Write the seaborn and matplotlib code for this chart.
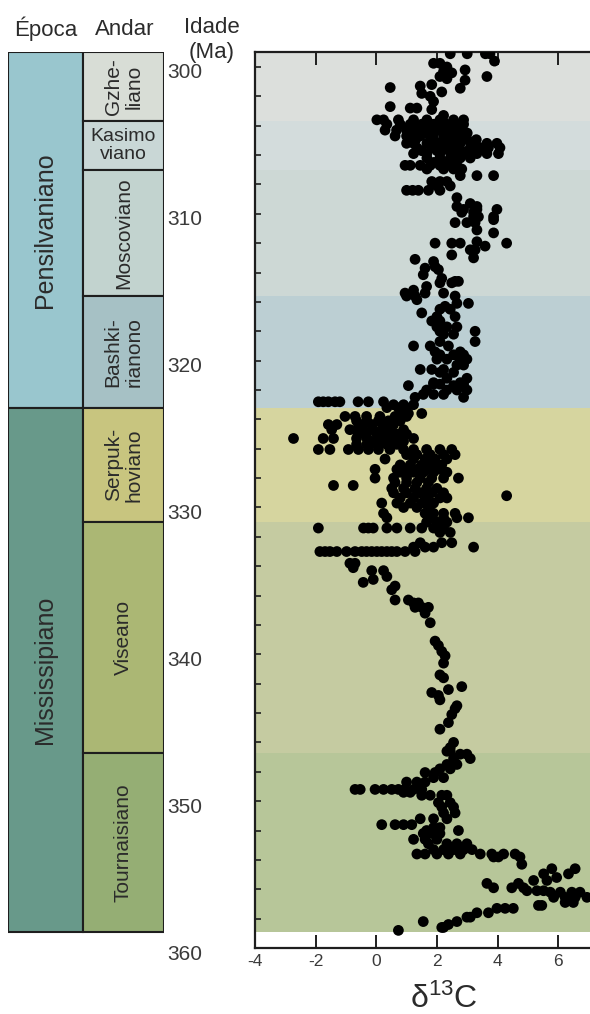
import numpy as np
import pandas as pd
import matplotlib
matplotlib.use("Agg")
import matplotlib.pyplot as plt
import matplotlib.transforms as mtransforms
from matplotlib.ticker import MultipleLocator, NullFormatter
import seaborn as sns

sns.set_theme(style="ticks")
plt.rcParams["font.family"] = ["Liberation Sans", "DejaVu Sans"]
plt.rcParams["mathtext.fontset"] = "custom"
plt.rcParams["mathtext.rm"] = "Liberation Sans"
plt.rcParams["mathtext.it"] = "Liberation Sans:italic"

# ---- Carboniferous time scale (Ma) ----
epochs = ["Pensilvaniano", "Mississipiano"]
epoch_top = [299.0, 323.2]
epoch_base = [323.2, 358.9]
epoch_colors = ["#99c6ce", "#68998a"]

stages = ["Gzhe-\nliano", "Kasimo\nviano", "Moscoviano", "Bashki-\nrianono",
          "Serpuk-\nhoviano", "Viseano", "Tournaisiano"]
stage_top = [299.0, 303.7, 307.0, 315.6, 323.2, 331.0, 346.7]
stage_base = [303.7, 307.0, 315.6, 323.2, 331.0, 346.7, 358.9]
stage_colors = ["#d8ddd6", "#c9d7d6", "#c2d3cf", "#a6c1c5",
                "#c8c57f", "#abb774", "#95ae74"]
band_colors = ["#dcdfdc", "#d3dcdc", "#cdd8d5", "#bccfd3",
               "#d6d59f", "#c5cba1", "#b7c699"]
stage_rotation = [90, 0, 90, 90, 90, 90, 90]

age_ticks = [300, 310, 320, 330, 340, 350, 360]
d13c_ticks = [-4, -2, 0, 2, 4, 6]

# ---- delta13C measurements: (age in Ma, [d13C values at that age]) ----
gzhelian = [
    (299.1, [2.44, 3.0, 3.6, 3.75]), (299.6, [3.9]), (299.75, [1.89, 2.1]),
    (300.0, [2.33]), (300.2, [2.93]), (300.3, [2.22]), (300.4, [2.49]),
    (300.65, [2.1, 3.65]), (300.8, [2.33]), (300.9, [2.93]), (301.2, [1.83]),
    (301.3, [1.45]), (301.4, [0.46]), (301.45, [2.77]), (301.7, [2.16]),
    (301.8, [1.5]), (302.0, [1.78]), (302.35, [1.89]), (302.7, [0.46]),
    (302.8, [1.12, 1.34]), (302.9, [1.83]), (303.3, [2.22]),
    (303.6, [0.02, 0.24, 0.73, 1.23, 1.67, 2.1, 2.55, 2.88]),
]
kasimovian = [
    (303.9, [0.35, 0.79, 1.12, 1.5, 1.89, 2.33, 2.66, 2.88]),
    (304.1, [1.3, 1.7, 2.2, 2.5, 2.8]),
    (304.3, [0.29, 0.67, 1.0, 1.34, 1.72, 2.0, 2.33, 2.71]),
    (304.5, [1.2, 1.6, 1.9, 2.4, 2.6, 3.0]),
    (304.7, [0.62, 1.0, 1.45, 1.78, 2.22, 2.55, 2.88]),
    (304.95, [1.3, 1.9, 2.3, 2.7, 3.0, 3.3]),
    (305.2, [1.0, 1.23, 1.67, 2.1, 2.44, 2.77, 3.21, 3.65, 3.98]),
    (305.5, [1.34, 1.83, 2.22, 2.66, 3.1, 3.43, 3.7, 4.08]),
    (305.7, [1.5, 2.0, 2.4, 2.8, 3.2]),
    (305.9, [1.23, 1.67, 2.1, 2.55, 2.99, 3.32, 3.65, 4.03]),
    (306.2, [1.67, 2.1, 2.44, 2.77, 3.1]),
    (306.5, [1.9, 2.3, 2.6]),
    (306.7, [0.95, 1.12, 1.45, 1.78, 2.1, 2.33, 2.66]),
    (306.95, [1.67, 2.22, 2.55, 2.82]),
]
moscovian = [
    (307.4, [2.77, 3.32, 3.87]), (307.8, [1.83, 2.1, 2.33]), (308.1, [2.0, 2.44]),
    (308.4, [1.0, 1.2, 1.39, 1.72, 2.1]), (308.9, [2.66]), (309.3, [3.1]),
    (309.5, [2.66, 3.32]), (309.7, [2.88, 3.32, 3.98]), (309.9, [2.82, 3.21]),
    (310.2, [3.21, 3.37, 3.87]), (310.4, [3.87]), (310.6, [2.6, 2.99, 3.26]),
    (311.1, [3.32]), (311.3, [3.87]), (311.9, [3.32]),
    (312.0, [1.94, 2.49, 2.77, 4.3]), (312.2, [3.59]), (312.45, [3.1, 3.26]),
    (312.8, [2.49]), (313.0, [3.21]), (313.1, [1.28]), (313.25, [1.89]),
    (313.6, [1.94]), (313.7, [1.61]), (313.8, [2.05]), (314.15, [1.55]),
    (314.4, [2.16]), (314.6, [2.6, 2.71]), (314.7, [2.1, 2.49]),
    (314.95, [1.66]), (315.2, [1.23]), (315.4, [0.95, 1.61, 2.22]),
]
bashkirian = [
    (315.6, [1.0, 1.28, 2.6]), (315.85, [1.34]), (316.1, [2.66, 3.04]),
    (316.3, [2.27]), (316.5, [2.1, 2.44]), (316.75, [1.5]), (317.0, [2.0, 2.6]),
    (317.3, [1.83, 2.1]), (317.7, [2.0, 2.33, 2.66]), (318.0, [2.1, 3.26]),
    (318.2, [2.22, 2.55]), (318.7, [2.1, 3.26]), (319.0, [1.23, 1.78, 2.38]),
    (319.4, [1.94, 2.77]), (319.6, [2.1, 2.55, 2.88]),
    (319.9, [2.0, 2.33, 2.77, 2.99]), (320.3, [2.66, 2.88]),
    (320.6, [1.45, 1.83, 2.22]), (320.8, [2.1, 2.55]), (321.2, [2.33, 2.99]),
    (321.5, [1.89, 2.77]), (321.6, [1.89, 2.1, 2.88]), (321.7, [1.06, 2.55]),
    (322.0, [1.66, 2.33, 2.66, 2.99]), (322.3, [1.55, 1.89, 2.22]),
    (322.5, [1.28, 2.88]),
    (322.8, [-1.91, -1.75, -1.58, -1.36, -1.2, -0.6, -0.26, 0.24]),
    (323.0, [0.57, 0.9, 1.23]),
]
serpukhovian = [
    (323.2, [0.35, 0.73, 1.0]), (323.6, [0.79, 1.06, 1.5]),
    (323.8, [-1.03, -0.7, -0.32, 0.12, 0.62, 1.0]),
    (324.1, [-0.65, -0.31, 0.07, 0.4, 0.79]),
    (324.35, [-1.58, -1.3, -0.54, -0.15, 0.24, 0.57]),
    (324.7, [-1.47, -0.87, -0.65, -0.43, -0.1, 0.18, 0.45, 0.9]),
    (325.0, [-0.6, -0.32, 0.02, 0.35, 0.68, 1.0]),
    (325.3, [-2.73, -1.75, -1.41, -0.65, -0.31, 0.12, 0.45, 0.79, 1.23]),
    (325.5, [-0.15, 0.24, 0.62, 0.9]),
    (325.7, [-0.65, -0.31, 0.02, 0.35, 0.68]),
    (326.05, [-1.91, -1.53, -0.92, -0.59, -0.26, 0.07, 0.45, 0.9, 1.23, 1.66, 2.1, 2.49]),
    (326.4, [1.0, 1.34, 1.78, 2.22, 2.6]),
    (326.7, [0.29, 1.23, 1.61, 1.94, 2.33]),
    (327.1, [0.79, 1.12, 1.5, 1.83, 2.16]),
    (327.4, [-0.04, 0.68, 1.0, 1.34, 1.66, 2.1]),
    (327.6, [0.79, 1.23, 1.55, 1.89, 2.33]),
    (328.0, [-0.04, 0.57, 1.0, 1.45, 1.83, 2.22, 2.71]),
    (328.3, [0.62, 1.0, 1.34, 1.72]), (328.5, [-1.41, -0.76]),
    (328.7, [0.51, 0.9, 1.28, 1.66, 2.0]),
    (329.0, [0.57, 1.0, 1.45, 1.83, 2.22]), (329.2, [4.3]),
    (329.35, [0.79, 1.23, 1.66, 2.1, 2.33]),
    (329.7, [0.18, 0.68, 1.12, 1.5, 1.89]), (330.0, [0.9, 1.34, 1.72]),
    (330.4, [0.24, 1.61, 1.89, 2.22, 2.6]),
    (330.7, [0.35, 1.83, 2.22, 2.66, 3.04]),
]
visean = [
    (331.0, [1.66, 2.0, 2.33]),
    (331.4, [-1.91, -0.42, -0.26, -0.1, 0.35, 0.68, 1.12, 1.5, 1.89, 2.22]),
    (331.7, [2.1, 2.44]), (332.4, [1.45, 2.16, 2.49]),
    (332.7, [1.23, 1.61, 1.89, 3.21]),
    (333.0, [-1.86, -1.69, -1.53, -1.3, -0.98, -0.7, -0.48, -0.32, -0.15,
             0.02, 0.18, 0.35, 0.51, 0.68, 0.95, 1.28]),
    (333.8, [-0.87, -0.7]), (334.1, [-0.76]), (334.3, [-0.15, 0.24]),
    (334.7, [0.35]), (334.9, [-0.1]), (335.1, [-0.43]), (335.35, [0.62]),
    (335.6, [0.51]), (336.3, [0.62, 1.06]), (336.5, [1.23, 1.39]),
    (336.8, [1.28, 1.5, 1.72]), (337.2, [1.61]), (337.85, [1.78]),
    (339.1, [1.94]), (339.4, [2.05]), (339.8, [2.16]), (340.1, [2.27]),
    (340.6, [2.22]), (341.4, [2.1]), (341.6, [2.22]), (342.2, [2.82]),
    (342.4, [2.38]), (342.6, [1.83]), (342.8, [2.05]), (343.1, [2.1]),
    (343.5, [2.66]), (343.7, [2.6]), (344.1, [2.49]), (344.65, [2.38]),
    (345.1, [2.1]), (346.0, [2.55]), (346.35, [2.44]),
]
tournaisian = [
    (346.6, [2.33, 2.44]), (346.8, [2.77, 2.99]), (347.1, [2.55, 3.1]),
    (347.5, [2.33, 2.66]), (347.8, [2.1, 2.44]), (348.05, [1.61, 1.94]),
    (348.4, [1.89, 2.22]), (348.7, [1.0, 1.34, 1.61]),
    (349.2, [-0.7, -0.53, -0.04, 0.24, 0.51, 0.73, 0.95, 1.23, 1.5]),
    (349.4, [0.9, 1.12]), (349.6, [1.5, 1.78, 2.16, 2.33]),
    (350.1, [2.05, 2.44]), (350.4, [2.16, 2.55]), (350.8, [2.22, 2.6]),
    (351.2, [1.45, 1.89, 2.33]), (351.6, [0.18, 0.62, 0.9, 1.17]),
    (351.8, [1.89, 2.1]), (352.0, [1.66, 2.71]), (352.2, [1.55, 1.83, 2.1]),
    (352.6, [1.23, 1.61, 2.0]), (352.9, [1.72, 2.33, 2.66, 2.99]),
    (353.3, [1.89, 2.22, 2.55, 2.88, 3.16]),
    (353.6, [1.34, 1.61, 2.0, 2.38, 2.77, 3.43, 3.81, 4.2, 4.58]),
    (353.8, [3.87, 4.03, 4.74]), (354.3, [4.8]), (354.6, [5.79, 6.56]),
    (354.95, [5.52, 6.34]), (355.2, [5.95]), (355.4, [5.19, 5.63]),
    (355.6, [3.65, 4.69]), (355.9, [3.87, 4.47, 4.86]),
    (356.1, [4.97, 5.3, 5.52]), (356.2, [5.74, 6.07, 6.45, 6.72]),
    (356.55, [5.85, 6.23, 6.56, 6.95]), (356.9, [6.23, 6.5]),
    (357.1, [5.35, 5.46]), (357.3, [3.98, 4.25, 4.52]), (357.6, [3.32, 3.7]),
    (357.9, [2.99, 3.1]), (358.2, [1.55, 2.66]), (358.4, [2.38]),
    (358.6, [2.16, 2.22]), (358.8, [0.73]),
]

rows = []
for group in (gzhelian, kasimovian, moscovian, bashkirian,
              serpukhovian, visean, tournaisian):
    for age, vals in group:
        for v in vals:
            rows.append((age, v))
df = pd.DataFrame(rows, columns=["age", "d13C"])

# ---- figure ----
W, H = 590, 1014
fig = plt.figure(figsize=(W / 100, H / 100), dpi=100)
fig.patch.set_facecolor("white")

ax_bottom = (H - 948) / H
ax_height = (948 - 52) / H
ylim = (360.0, 298.98)
text_color = "#2b2b2b"

# time-scale columns
axc = fig.add_axes([8 / W, ax_bottom, 156 / W, ax_height])
col_split = 0.96
heights_e = np.array(epoch_base) - np.array(epoch_top)
axc.bar(np.zeros(len(epochs)), heights_e, width=col_split, bottom=epoch_top,
        align="edge", color=epoch_colors, edgecolor="#1e1e1e", linewidth=1.5)
heights_s = np.array(stage_base) - np.array(stage_top)
axc.bar(np.full(len(stages), col_split), heights_s, width=2 - col_split,
        bottom=stage_top, align="edge", color=stage_colors,
        edgecolor="#1e1e1e", linewidth=1.5)
axc.set_xlim(0, 2)
axc.set_ylim(*ylim)
for s in axc.spines.values():
    s.set_visible(False)
axc.set_xticks([])
for name, t, b in zip(epochs, epoch_top, epoch_base):
    axc.text(col_split / 2, (t + b) / 2, name, rotation=90, ha="center",
             va="center", fontsize=18, color=text_color)
for name, t, b, rot in zip(stages, stage_top, stage_base, stage_rotation):
    axc.text((col_split + 2) / 2, (t + b) / 2, name, rotation=rot,
             ha="center", va="center", fontsize=15 if rot else 14,
             color=text_color, linespacing=1.1, multialignment="center")
axc.yaxis.tick_right()
axc.set_yticks(age_ticks)
axc.set_yticklabels([str(a) for a in age_ticks])
axc.tick_params(axis="y", length=0, pad=2, labelsize=15, labelcolor="#3a3a3a")
shift = mtransforms.ScaledTranslation(0, -0.04, fig.dpi_scale_trans)
for lab in axc.get_yticklabels():
    lab.set_transform(lab.get_transform() + shift)

# isotope scatter
ax = fig.add_axes([255 / W, ax_bottom, (W - 255) / W, ax_height])
ax.set_facecolor("white")
for t, b, c in zip(stage_top, stage_base, band_colors):
    ax.axhspan(t if t > 299.0 else ylim[1], b, color=c, linewidth=0, zorder=0)
sns.scatterplot(data=df, x="d13C", y="age", color="black", s=60,
                linewidth=0, edgecolor="none", ax=ax, legend=False, zorder=3)
ax.set_xlim(-4, 7.05)
ax.set_ylim(*ylim)
ax.set_xticks(d13c_ticks)
ax.set_xticklabels([str(v) for v in d13c_ticks])
ax.yaxis.set_major_locator(MultipleLocator(2))
ax.yaxis.set_major_formatter(NullFormatter())
ax.xaxis.set_ticks_position("both")
ax.tick_params(axis="x", which="major", direction="in", top=True, bottom=True,
               labeltop=False, labelbottom=True, length=9.5, width=1.4,
               color="#1e1e1e", labelsize=12.5, labelcolor="#3a3a3a", pad=4)
ax.tick_params(axis="y", which="major", direction="in", left=True,
               right=False, length=4, width=1.2, color="#1e1e1e")
for side in ("left", "top", "bottom"):
    ax.spines[side].set_linewidth(1.6)
    ax.spines[side].set_color("#1e1e1e")
ax.spines["right"].set_visible(False)
ax.set_ylabel("")
ax.set_xlabel("δ$\\mathregular{^{13}}$C", fontsize=23, color=text_color)
ax.xaxis.set_label_coords((444 - 255) / (W - 255), -0.040)

# column headers
fig.text(45.5 / W, 1 - 36 / H, "Época", ha="center", va="baseline",
         fontsize=16, color=text_color)
fig.text(125 / W, 1 - 35 / H, "Andar", ha="center", va="baseline",
         fontsize=16, color=text_color)
fig.text(212 / W, 1 - 33 / H, "Idade", ha="center", va="baseline",
         fontsize=16, color=text_color)
fig.text(212 / W, 1 - 58 / H, "(Ma)", ha="center", va="baseline",
         fontsize=16, color=text_color)

fig.savefig("out.png", dpi=100)
